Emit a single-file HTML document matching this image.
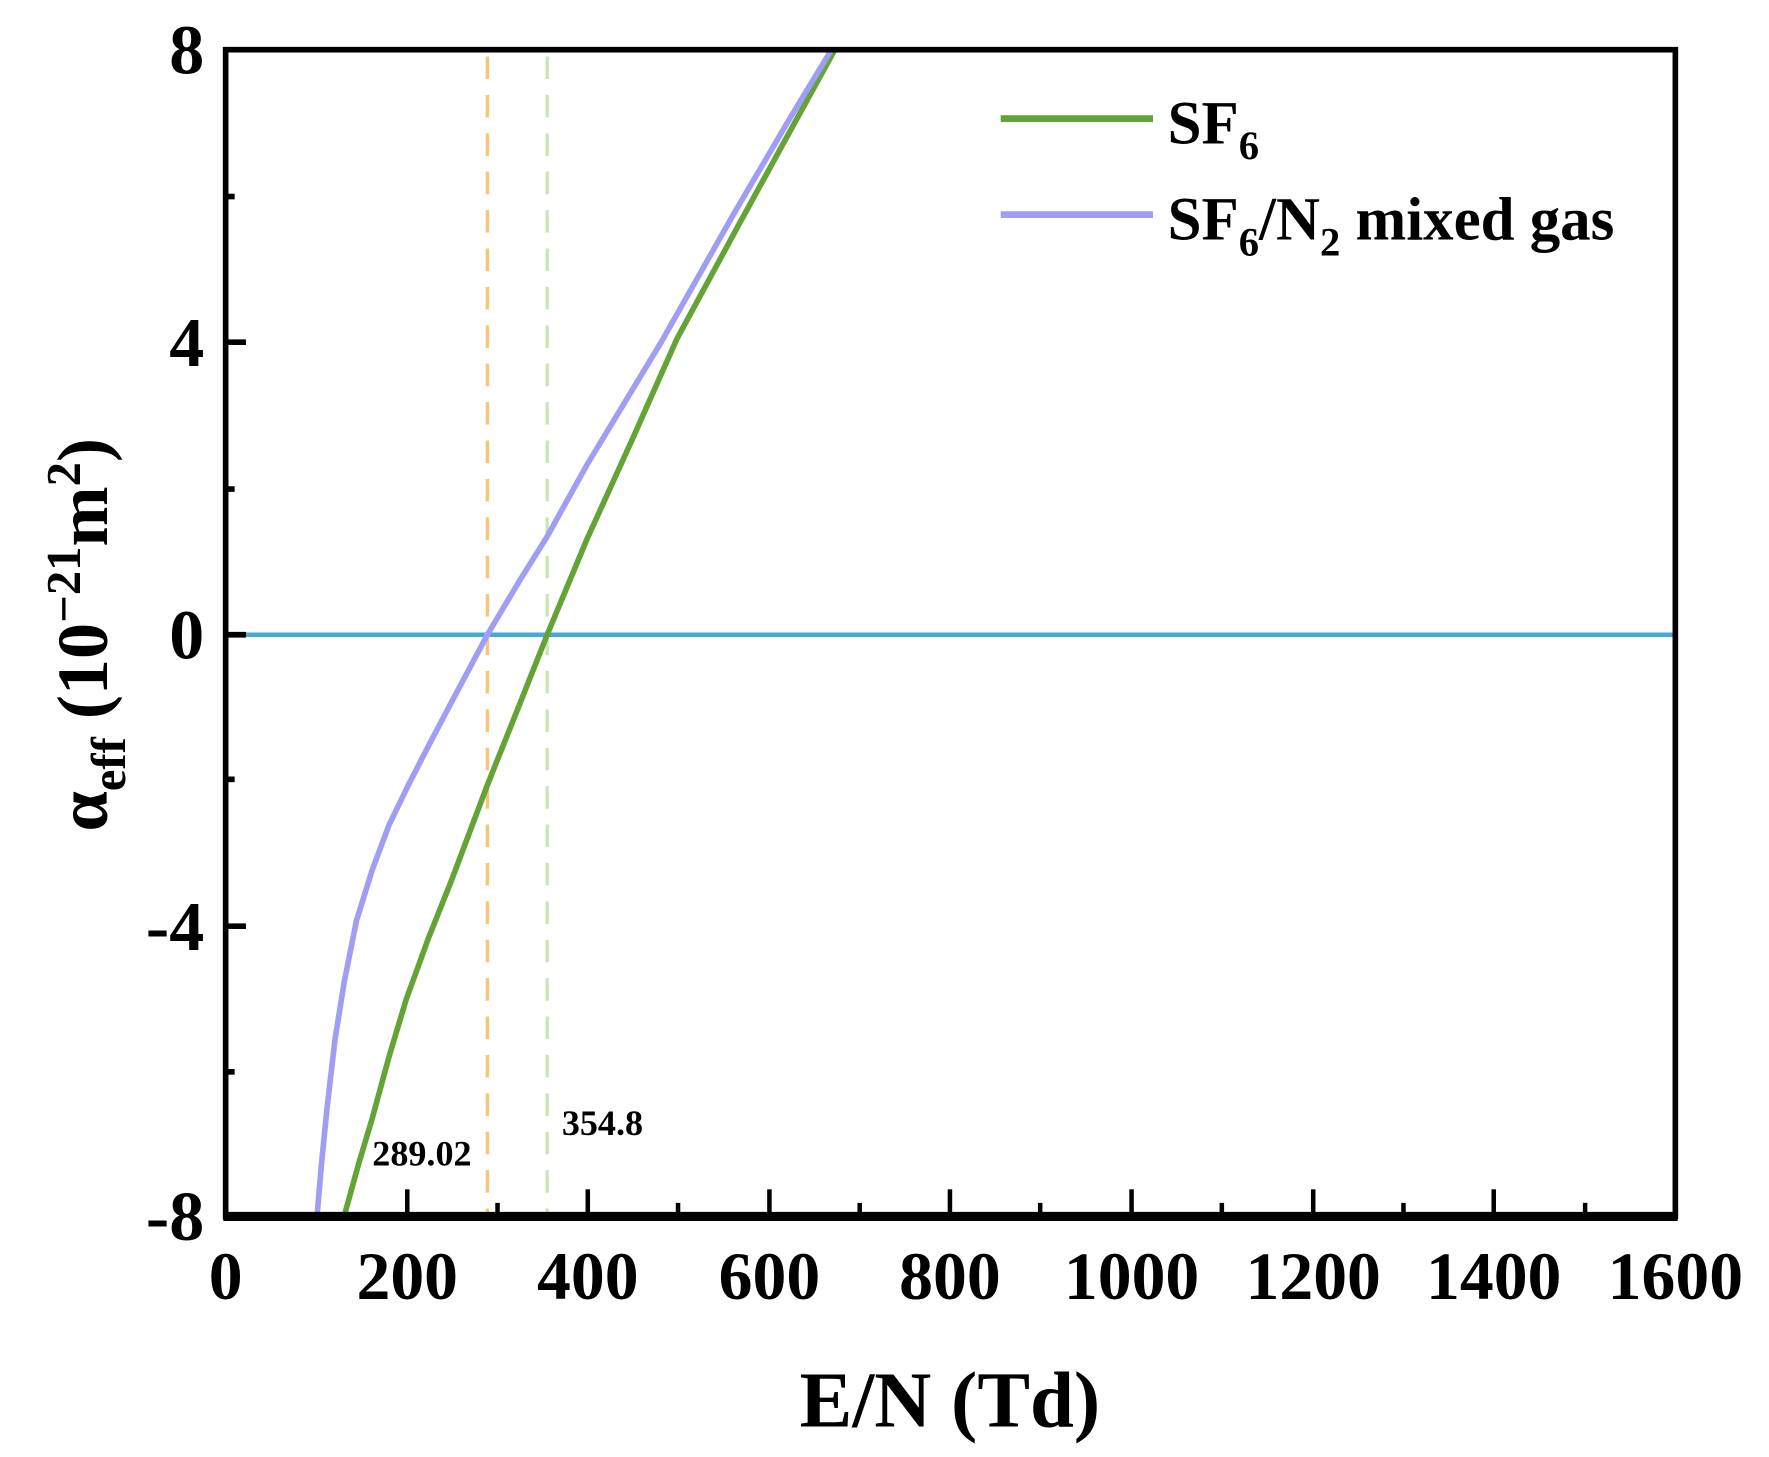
<!DOCTYPE html>
<html><head><meta charset="utf-8"><style>html,body{margin:0;padding:0;background:#fff}svg{display:block}</style></head>
<body>
<svg width="1769" height="1457" viewBox="0 0 1568 1290" preserveAspectRatio="none" xmlns="http://www.w3.org/2000/svg" font-family="Liberation Serif, serif" font-weight="bold">
<rect width="1568" height="1290" fill="#fff"/>
<line x1="432" y1="50" x2="432" y2="1075" stroke="#f8c479" stroke-width="3" stroke-dasharray="20,14"/>
<line x1="485" y1="50" x2="485" y2="1075" stroke="#cce5b5" stroke-width="3" stroke-dasharray="20,14"/>
<line x1="215" y1="562" x2="1485" y2="562" stroke="#4aa9d4" stroke-width="4"/>
<polyline fill="none" stroke="#64a336" stroke-width="5" stroke-linejoin="round" points="305,1077 318,1030 330,990 345,935 360,885 380,830 400,780 432,695 460,625 485,562 520,478 560,390 600,300 657,195 702,113 740,44"/>
<polyline fill="none" stroke="#a09df5" stroke-width="5" stroke-linejoin="round" points="281,1077 285,1030 290,980 297,920 305,870 316,815 330,770 345,730 362,695 380,660 400,622 432,562 460,515 485,475 520,412 586,303 650,190 700,105 737,44"/>
<rect x="200" y="44" width="1285" height="1033" fill="none" stroke="#000" stroke-width="5"/>
<line x1="198" y1="1077" x2="1487" y2="1077" stroke="#000" stroke-width="8"/>
<g stroke="#000" stroke-width="5">
<line x1="200" y1="303" x2="218" y2="303"/><line x1="200" y1="562" x2="218" y2="562"/><line x1="200" y1="820" x2="218" y2="820"/>
<line x1="200" y1="174" x2="208" y2="174"/><line x1="200" y1="433" x2="208" y2="433"/><line x1="200" y1="690" x2="208" y2="690"/><line x1="200" y1="949" x2="208" y2="949"/>
</g>
<g stroke="#000" stroke-width="4">
<line x1="361" y1="1077" x2="361" y2="1053"/><line x1="521" y1="1077" x2="521" y2="1053"/><line x1="682" y1="1077" x2="682" y2="1053"/><line x1="842" y1="1077" x2="842" y2="1053"/><line x1="1003" y1="1077" x2="1003" y2="1053"/><line x1="1164" y1="1077" x2="1164" y2="1053"/><line x1="1324" y1="1077" x2="1324" y2="1053"/>
<line x1="441" y1="1077" x2="441" y2="1065"/><line x1="601" y1="1077" x2="601" y2="1065"/><line x1="762" y1="1077" x2="762" y2="1065"/><line x1="922" y1="1077" x2="922" y2="1065"/><line x1="1083" y1="1077" x2="1083" y2="1065"/><line x1="1244" y1="1077" x2="1244" y2="1065"/><line x1="1405" y1="1077" x2="1405" y2="1065"/>
</g>
<g font-size="62" text-anchor="end">
<text x="181" y="65">8</text><text x="181" y="324">4</text><text x="181" y="583">0</text><text x="181" y="841">-4</text><text x="181" y="1098">-8</text>
</g>
<g font-size="60" text-anchor="middle">
<text x="200" y="1150">0</text><text x="361" y="1150">200</text><text x="521" y="1150">400</text><text x="682" y="1150">600</text><text x="842" y="1150">800</text><text x="1003" y="1150">1000</text><text x="1164" y="1150">1200</text><text x="1324" y="1150">1400</text><text x="1485" y="1150">1600</text>
</g>
<text x="842" y="1263" font-size="70" text-anchor="middle">E/N (Td)</text>
<text transform="translate(95,562) rotate(-90)" font-size="64" text-anchor="middle">α<tspan font-size="43" dy="16">eff</tspan><tspan dy="-16"> (10</tspan><tspan font-size="43" dy="-24">−21</tspan><tspan dy="24">m</tspan><tspan font-size="43" dy="-24">2</tspan><tspan dy="24">)</tspan></text>
<text x="330" y="1032" font-size="32">289.02</text>
<text x="498" y="1005" font-size="32">354.8</text>
<line x1="887" y1="105" x2="1022" y2="105" stroke="#64a336" stroke-width="6"/>
<line x1="887" y1="190" x2="1022" y2="190" stroke="#a09df5" stroke-width="6"/>
<text x="1035" y="127" font-size="54">SF<tspan font-size="36" dy="14">6</tspan></text>
<text x="1035" y="212" font-size="54">SF<tspan font-size="36" dy="14">6</tspan><tspan dy="-14">/N</tspan><tspan font-size="36" dy="14">2</tspan><tspan dy="-14"> mixed gas</tspan></text>
</svg>
</body></html>
